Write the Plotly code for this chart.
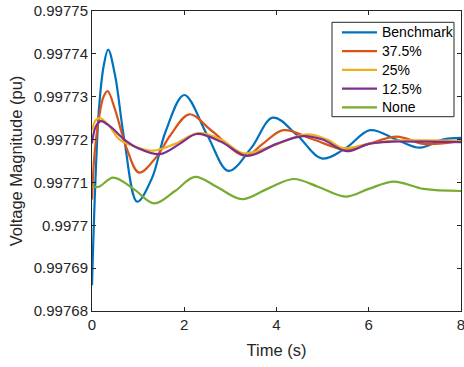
import plotly.graph_objects as go

# ---- data ----
t_bench = [0, 0.03, 0.08, 0.15, 0.25, 0.35, 0.5, 0.7, 0.98, 1.3, 1.6, 2.0, 2.5, 2.96, 3.45, 3.92, 4.45, 4.98, 5.5, 6.03, 6.6, 7.11, 7.6, 8.0]
v_bench = [0.997686, 0.997697, 0.997712, 0.997727, 0.997737, 0.997741, 0.997735, 0.997720, 0.9977055, 0.997711, 0.997722, 0.9977304,
           0.997721, 0.9977127, 0.997718, 0.9977251, 0.997721, 0.9977156, 0.997718, 0.9977222, 0.99772, 0.9977181, 0.99772, 0.9977204]

t_375 = [0, 0.05, 0.15, 0.25, 0.34, 0.5, 0.75, 1.02, 1.4, 1.7, 2.11, 2.6, 3.32, 3.7, 4.15, 4.8, 5.52, 6.0, 6.61, 7.2, 8.0]
v_375 = [0.997706, 0.997716, 0.997725, 0.997730, 0.9977313, 0.997727, 0.997718, 0.9977123, 0.997716, 0.997721, 0.9977259,
         0.997722, 0.9977162, 0.997719, 0.9977222, 0.997720, 0.9977176, 0.997719, 0.9977207, 0.997719, 0.9977197]

t_25 = [0, 0.08, 0.17, 0.35, 0.6, 0.9, 1.33, 1.8, 2.31, 2.8, 3.28, 3.9, 4.66, 5.1, 5.45, 6.0, 6.5, 7.2, 8.0]
v_25 = [0.9977222, 0.9977245, 0.997725, 0.9977235, 0.99772, 0.9977185, 0.9977174, 0.997719, 0.9977215, 0.99772, 0.9977168,
        0.9977185, 0.9977212, 0.99772, 0.997718, 0.997719, 0.9977197, 0.9977198, 0.9977197]

t_125 = [0, 0.08, 0.19, 0.4, 0.7, 1.0, 1.47, 1.9, 2.27, 2.8, 3.36, 4.0, 4.58, 5.0, 5.52, 6.0, 6.5, 7.2, 8.0]
v_125 = [0.9977191, 0.997723, 0.9977243, 0.997723, 0.99772, 0.997718, 0.9977166, 0.997719, 0.9977213, 0.9977195, 0.9977162,
         0.997719, 0.9977208, 0.99772, 0.9977173, 0.997719, 0.9977195, 0.9977195, 0.9977194]

t_none = [0, 0.15, 0.46, 0.9, 1.35, 1.8, 2.23, 2.7, 3.25, 3.8, 4.37, 4.9, 5.49, 6.0, 6.54, 7.19, 8.0]
v_none = [0.997709, 0.997709, 0.9977111, 0.9977085, 0.9977051, 0.997708, 0.9977113, 0.997709, 0.9977061, 0.9977085, 0.9977108,
          0.997709, 0.9977067, 0.9977085, 0.9977102, 0.9977085, 0.997708]

series_names = ["Benchmark", "37.5%", "25%", "12.5%", "None"]

x_ticks = [0, 2, 4, 6, 8]
y_ticks = [0.99768, 0.99769, 0.99770, 0.99771, 0.99772, 0.99773, 0.99774, 0.99775]
y_ticklabels = ["0.99768", "0.99769", "0.9977", "0.99771", "0.99772", "0.99773", "0.99774", "0.99775"]

colors = ["#0072BD", "#D95319", "#EDB120", "#7E2F8E", "#77AC30"]

fig = go.Figure()
for name, tx, vy, c in zip(series_names,
                           [t_bench, t_375, t_25, t_125, t_none],
                           [v_bench, v_375, v_25, v_125, v_none],
                           colors):
    fig.add_trace(go.Scatter(x=tx, y=vy, mode="lines", name=name, showlegend=False,
                             line=dict(color=c, width=2.2, shape="spline", smoothing=1.0)))

font_family = "Arial"
axis_color = "#262626"

# ---- legend box (MATLAB style), positioned in plot-area (paper) coordinates ----
box_x0, box_x1, box_y0, box_y1 = 0.6504, 0.981, 0.6477, 0.9623
sample_x0, sample_x1, text_x = 0.6775, 0.7724, 0.7805
row_top, row_step = 0.929, 0.0625

shapes = [dict(type="rect", xref="paper", yref="paper", x0=box_x0, x1=box_x1, y0=box_y0, y1=box_y1,
               line=dict(color=axis_color, width=1), fillcolor="white", layer="above")]
annotations = []
for i, (name, c) in enumerate(zip(series_names, colors)):
    yy = row_top - i * row_step
    shapes.append(dict(type="line", xref="paper", yref="paper", x0=sample_x0, x1=sample_x1, y0=yy, y1=yy,
                       line=dict(color=c, width=2.2), layer="above"))
    annotations.append(dict(xref="paper", yref="paper", x=text_x, y=yy, text=name, showarrow=False,
                            xanchor="left", yanchor="middle", font=dict(size=14, color="#000000")))

fig.update_layout(
    width=464, height=367,
    margin=dict(l=92, r=3, t=11, b=56),
    paper_bgcolor="white", plot_bgcolor="white",
    font=dict(family=font_family, color=axis_color, size=15),
    showlegend=False,
    shapes=shapes,
    annotations=annotations,
)
fig.update_xaxes(range=[0, 8], tickvals=x_ticks, ticks="inside", ticklen=4,
                 tickcolor=axis_color, showline=True, linecolor=axis_color, linewidth=1,
                 mirror="ticks", showgrid=False, zeroline=False, automargin=False,
                 ticklabeloverflow="allow",
                 title=dict(text="Time (s)", font=dict(size=16.5), standoff=12),
                 tickfont=dict(size=15))
fig.update_yaxes(range=[0.99768, 0.99775], tickvals=y_ticks, ticktext=y_ticklabels,
                 ticks="inside", ticklen=4, tickcolor=axis_color,
                 showline=True, linecolor=axis_color, linewidth=1,
                 mirror="ticks", showgrid=False, zeroline=False, automargin=False,
                 title=dict(text="Voltage Magnitude (pu)", font=dict(size=16.5), standoff=6),
                 tickfont=dict(size=15))

fig.write_html("out.html", config={"displayModeBar": False},
               post_script="document.body.style.margin='0';document.body.style.padding='0';document.body.style.overflow='hidden';")
